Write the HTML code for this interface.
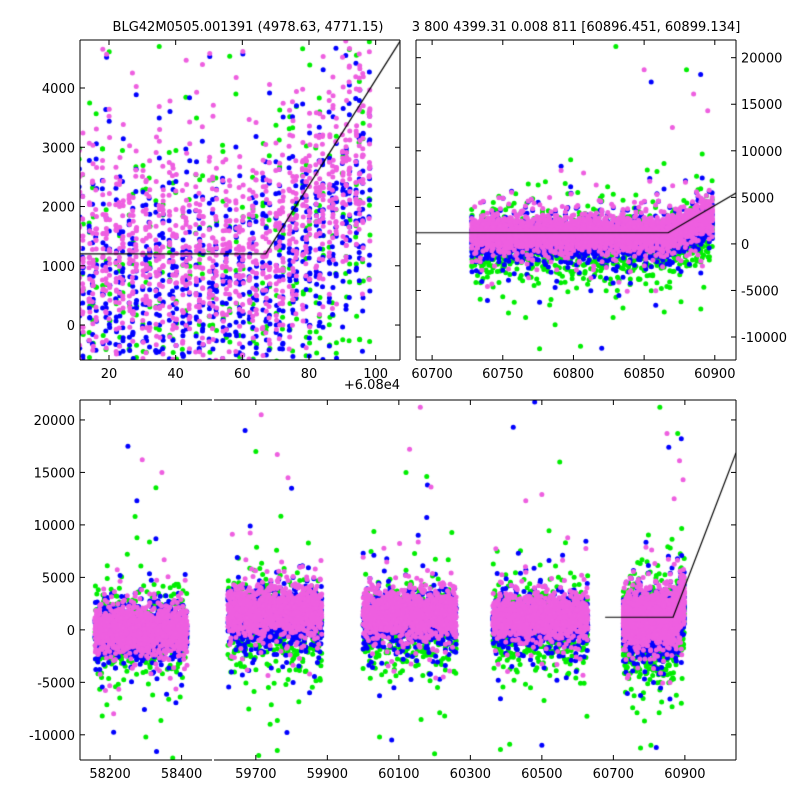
<!DOCTYPE html>
<html><head><meta charset="utf-8">
<style>
html,body{margin:0;padding:0;background:#fff;}
#wrap{position:relative;width:800px;height:800px;overflow:hidden;font-family:"DejaVu Sans","Liberation Sans",sans-serif;}
canvas{position:absolute;left:0;top:0;}
svg{position:absolute;left:0;top:0;}
text{font-family:"DejaVu Sans","Liberation Sans",sans-serif;font-size:13px;fill:#000;}
</style></head>
<body>
<div id="wrap">
<canvas id="cv" width="800" height="800"></canvas>
<svg id="sv" width="800" height="800">
<text x="248" y="31" text-anchor="middle">BLG42M0505.001391 (4978.63, 4771.15)</text>
<text x="576" y="31" text-anchor="middle">3 800 4399.31 0.008 811 [60896.451, 60899.134]</text>
</svg>
</div>
<script>
// ---- data ----
const seasonStart = [58158, 59622, 60000, 60363, 60728];
const seasonEnd   = [58416, 59885, 60262, 60629, 60899];
const seasonWeight = [1, 1, 1, 1, 2.2];
const magentaCenter = [0, 1800, 1500, 1300, 1100];
const magentaSpread = [1100, 1100, 1100, 1000, 950];
const blueCenter = [-300, 1100, 900, 700, 500];
const blueSpread = [1300, 1300, 1300, 1200, 1100];
const greenCenter = [-300, 500, 300, 100, -200];
const greenSpread = [2000, 2100, 1900, 1900, 1800];
const countMagenta = 1400;
const countBlue = 1000;
const countGreen = 600;
const riseStart = 60867;
const riseSlope = 60;
const modelBase = 1200;
const modelSlope = 89;
const modelStart = 60677;
const outlierMagentaT = [58290,58345,59715,59760,59790,60160,60130,60190,60500,60455,60850,60885,60895,60870];
const outlierMagentaY = [16200,15000,20500,16700,14500,21200,17200,13600,12900,12300,18700,16100,14300,12500];
const outlierBlueT = [58250,58275,58330,59670,59800,60180,60080,60480,60500,60420,60855,60890,60820];
const outlierBlueY = [17500,12300,-11600,19000,13500,13800,-10500,21700,-11000,19300,17400,18200,-11200];
const outlierGreenT = [58270,58300,59700,59740,59760,60120,60200,60410,60550,60830,60805,60880];
const outlierGreenY = [10800,-10200,17000,-9000,-11500,15000,-11800,-10900,16000,21200,-11000,18700];
const tlXTicks = [20,40,60,80,100];
const tlYTicks = [0,1000,2000,3000,4000];
const trXTicks = [60700,60750,60800,60850,60900];
const fluxTicks = [-10000,-5000,0,5000,10000,15000,20000];
const b1XTicks = [58200,58400];
const b2XTicks = [59700,59900,60100,60300,60500,60700,60900];

// ---- panels ----
const panels = {
  tl:{x0:80,x1:400,y0:40,y1:360,tmin:60811.3,tmax:60907.3,fmin:-590,fmax:4810},
  tr:{x0:416,x1:736,y0:40,y1:360,tmin:60688.6,tmax:60915,fmin:-12470,fmax:21900},
  b1:{x0:80,x1:212,y0:400,y1:760,tmin:58116,tmax:58485,fmin:-12400,fmax:21900},
  b2:{x0:214,x1:736,y0:400,y1:760,tmin:59583,tmax:61043,fmin:-12400,fmax:21900}
};
function xs(p,t){return p.x0+(t-p.tmin)/(p.tmax-p.tmin)*(p.x1-p.x0);}
function ys(p,f){return p.y1-(f-p.fmin)/(p.fmax-p.fmin)*(p.y1-p.y0);}

function halton(i,b){let f=1,r=0;while(i>0){f/=b;r+=f*(i%b);i=Math.floor(i/b);}return r;}
function buildCore(centers,spreads,n,offset){
  const pts=[];
  for(let s=0;s<seasonStart.length;s++){
    const m=Math.round(n*seasonWeight[s]);
    for(let i=1;i<=m;i++){
      const k=i+offset+s*9000;
      let t=seasonStart[s]+halton(k,2)*(seasonEnd[s]-seasonStart[s]);
      const night=Math.floor(t);
      if(night%4===1) continue;
      t=night+(t%1)*0.3;
      const u1=Math.max(halton(k,3),1e-4),u2=halton(k,5);
      let z=Math.sqrt(-2*Math.log(u1))*Math.cos(2*Math.PI*u2);
      if(halton(k,7)>0.88) z*=2.4;
      let c=centers[s];
      if(t>riseStart) c+=riseSlope*(t-riseStart);
      pts.push([t,c+spreads[s]*z]);
    }
  }
  return pts;
}
const series=[
  {color:'#00ee00',core:buildCore(greenCenter,greenSpread,countGreen,17),ot:outlierGreenT,oy:outlierGreenY},
  {color:'#0000ff',core:buildCore(blueCenter,blueSpread,countBlue,331),ot:outlierBlueT,oy:outlierBlueY},
  {color:'#ee5fe0',core:buildCore(magentaCenter,magentaSpread,countMagenta,911),ot:outlierMagentaT,oy:outlierMagentaY}
];

const ctx=document.getElementById('cv').getContext('2d');
function drawPanel(p,lineFrom){
  ctx.save();ctx.beginPath();ctx.rect(p.x0,p.y0,p.x1-p.x0,p.y1-p.y0);ctx.clip();
  for(const s of series){
    ctx.fillStyle=s.color;
    const all=s.core.concat(s.ot.map((t,i)=>[t,s.oy[i]]));
    for(const [t,f] of all){
      if(t<p.tmin-1||t>p.tmax+1)continue;
      ctx.beginPath();ctx.arc(xs(p,t),ys(p,f),2.5,0,6.2832);ctx.fill();
    }
  }
  const ta=Math.max(lineFrom,p.tmin);
  if(ta<p.tmax){
    ctx.strokeStyle='#000';ctx.lineWidth=1.2;ctx.beginPath();
    ctx.moveTo(xs(p,ta),ys(p,modelBase));
    if(riseStart>ta){ctx.lineTo(xs(p,Math.min(riseStart,p.tmax)),ys(p,modelBase));}
    if(p.tmax>riseStart){ctx.lineTo(xs(p,p.tmax),ys(p,modelBase+modelSlope*(p.tmax-riseStart)));}
    ctx.stroke();
  }
  ctx.restore();
}
drawPanel(panels.tl,0);
drawPanel(panels.tr,0);
drawPanel(panels.b1,1e9);
drawPanel(panels.b2,modelStart);

// ---- axes (SVG) ----
const sv=document.getElementById('sv');
const NS='http://www.w3.org/2000/svg';
function el(tag,attrs){const e=document.createElementNS(NS,tag);for(const k in attrs)e.setAttribute(k,attrs[k]);sv.appendChild(e);return e;}
function line(x1,y1,x2,y2,name){
  const e=el('line',{x1:x1,y1:y1,x2:x2,y2:y2,stroke:'#000','stroke-width':1});
  
  
  return e;
}
function label(x,y,txt,anchor,name){
  const e=el('text',{x:x,y:y,'text-anchor':anchor});
  e.textContent=txt;
  
  
  return e;
}
function frame(p,sides,name){
  if(sides.includes('t'))line(p.x0,p.y0,p.x1,p.y0,name+'-top-spine');
  if(sides.includes('b'))line(p.x0,p.y1,p.x1,p.y1,name+'-bottom-spine');
  if(sides.includes('l'))line(p.x0,p.y0,p.x0,p.y1,name+'-left-spine');
  if(sides.includes('r'))line(p.x1,p.y0,p.x1,p.y1,name+'-right-spine');
}
function xTicks(p,ticks,off,name){
  for(const v of ticks){const x=xs(p,v+off);
    line(x,p.y1,x,p.y1-5,name+'-x-tick');line(x,p.y0,x,p.y0+5,name+'-x-tick');
    label(x,p.y1+18,String(v),'middle',name+'-x-tick-label');}
}
function yTicks(p,ticks,side,name){
  for(const v of ticks){const y=ys(p,v);
    line(p.x0,y,p.x0+5,y,name+'-y-tick');line(p.x1,y,p.x1-5,y,name+'-y-tick');
    if(side==='l')label(p.x0-5,y+5,String(v),'end',name+'-y-tick-label');
    else label(p.x1+5,y+5,String(v),'start',name+'-y-tick-label');}
}
frame(panels.tl,'tblr','top-left');
xTicks(panels.tl,tlXTicks,60800,'top-left');
yTicks(panels.tl,tlYTicks,'l','top-left');
label(400,389,'+6.08e4','end','x-offset-label');
frame(panels.tr,'tblr','top-right');
xTicks(panels.tr,trXTicks,0,'top-right');
yTicks(panels.tr,fluxTicks,'r','top-right');
frame(panels.b1,'tbl','bottom-left');
xTicks(panels.b1,b1XTicks,0,'bottom-left');
yTicks({...panels.b1,x1:-100},fluxTicks,'l','bottom-left');
frame(panels.b2,'tbr','bottom-right');
xTicks(panels.b2,b2XTicks,0,'bottom-right');
for(const v of fluxTicks){const y=ys(panels.b2,v);line(panels.b2.x1,y,panels.b2.x1-5,y,'bottom-right-y-tick');}
</script>
</body></html>
